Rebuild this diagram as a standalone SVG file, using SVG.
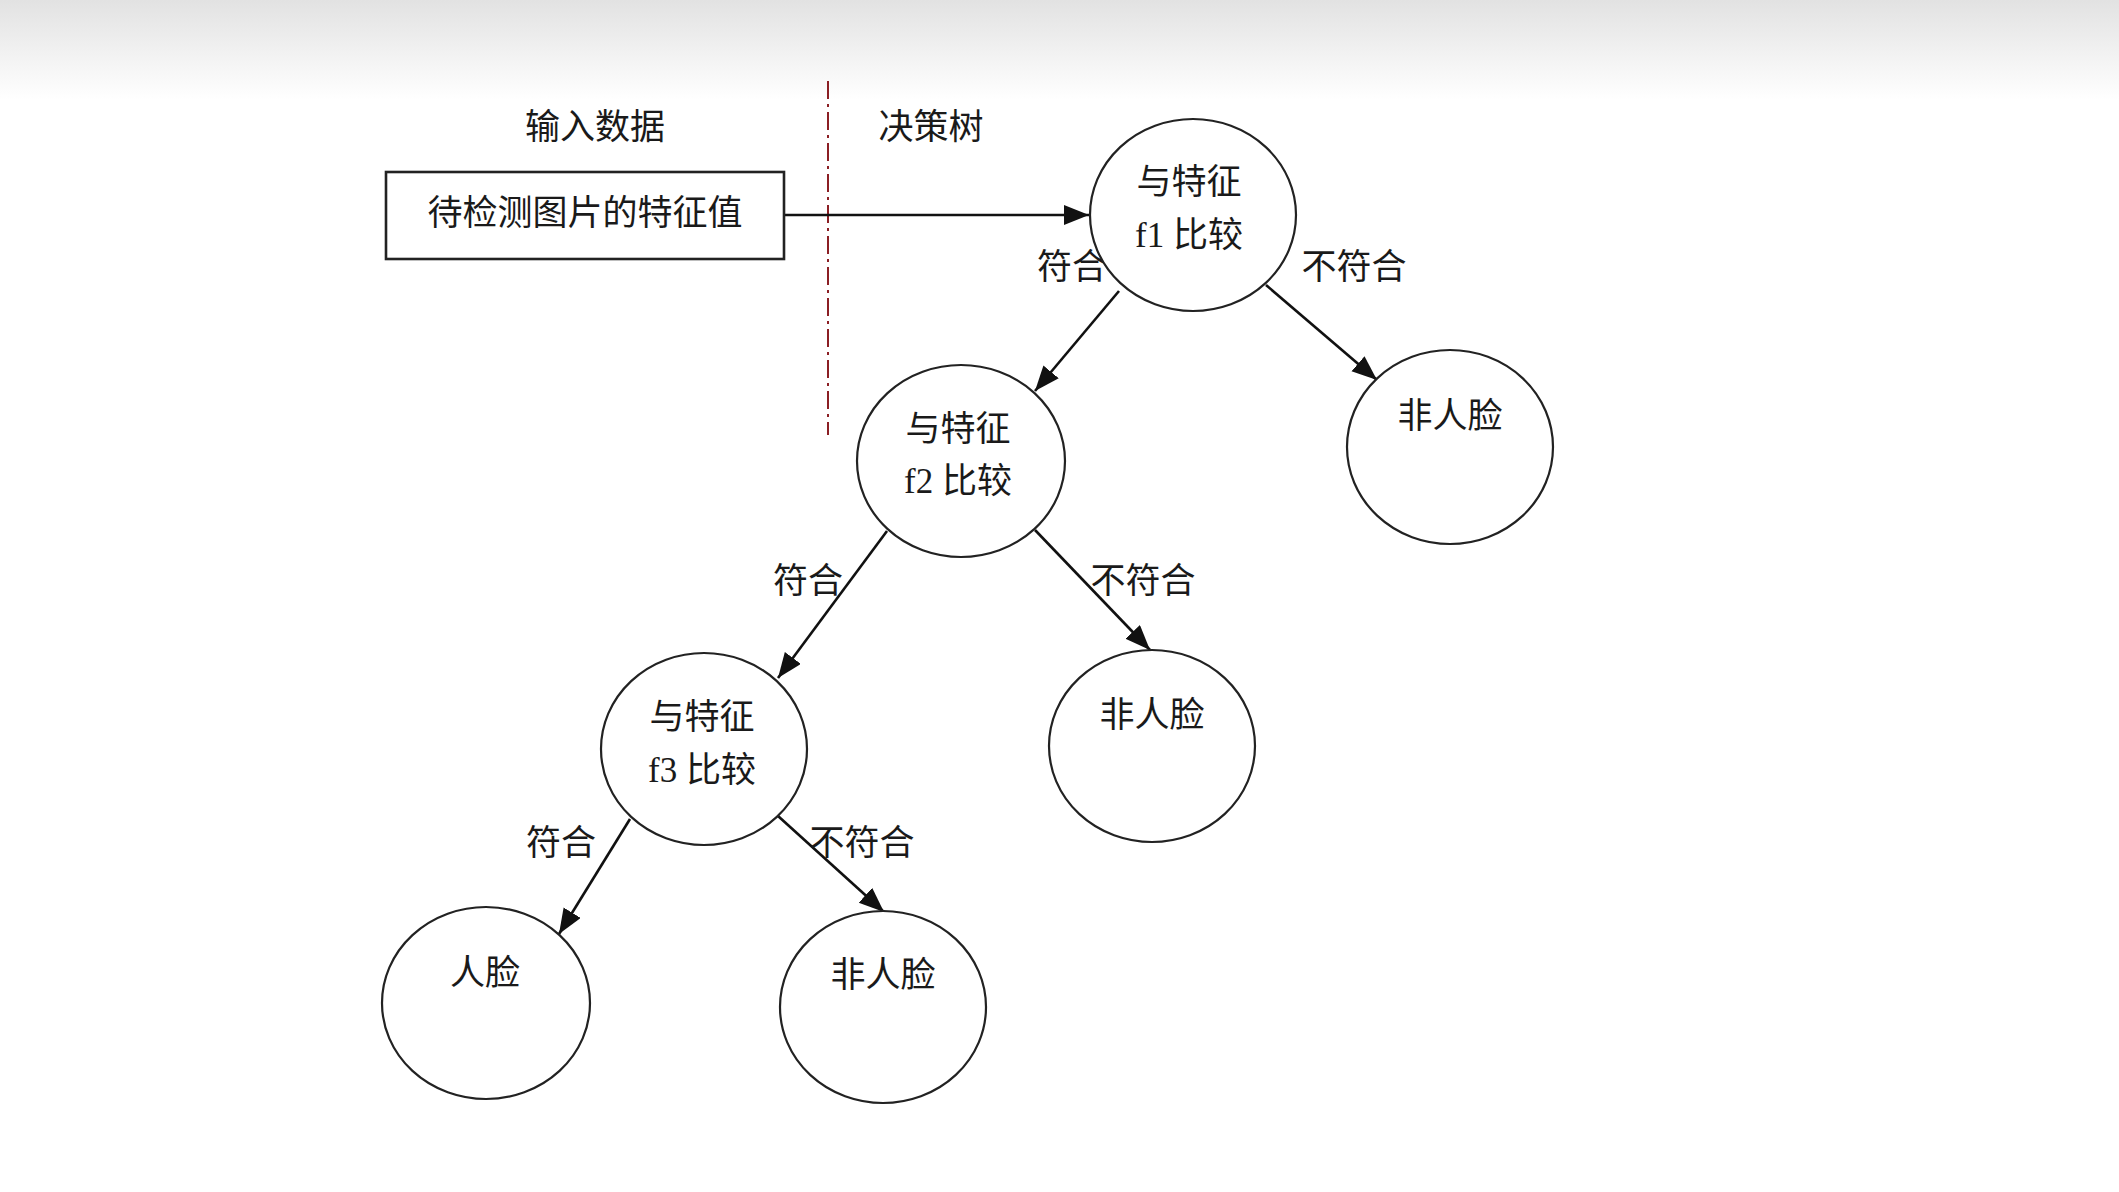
<svg xmlns="http://www.w3.org/2000/svg" width="2119" height="1192" viewBox="0 0 2119 1192">
<defs>
<linearGradient id="bg" x1="0" y1="0" x2="0" y2="1">
<stop offset="0" stop-color="#e2e2e2"/>
<stop offset="1" stop-color="#ffffff"/>
</linearGradient>
<marker id="arr" markerUnits="userSpaceOnUse" markerWidth="28" markerHeight="22" refX="25" refY="10" orient="auto">
<path d="M0,0 L25,10 L0,20 Z" fill="#111"/>
</marker>
<style>
.n{fill:#fff;stroke:#222;stroke-width:2.2}
.t{font-family:"Liberation Serif","Noto Sans CJK SC",serif;font-size:35px;fill:#1a1a1a;text-anchor:middle;dominant-baseline:central}
.c{stroke:#111;stroke-width:2.6;fill:none;marker-end:url(#arr)}
</style>
</defs>
<rect width="2119" height="1192" fill="#fff"/>
<rect width="2119" height="100" fill="url(#bg)"/>
<g id="headers">
<text class="t" x="595" y="127">输入数据</text>
<text class="t" x="931" y="127">决策树</text>
<line x1="828" y1="81" x2="828" y2="435" stroke="#8b1f24" stroke-width="2" stroke-dasharray="18,5,3,5"/>
</g>
<g id="connectors">
<line class="c" x1="784" y1="215" x2="1089" y2="215"/>
<line class="c" x1="1119" y1="291" x2="1035" y2="391"/>
<line class="c" x1="1266" y1="285" x2="1377" y2="380"/>
<line class="c" x1="887" y1="531" x2="778" y2="678"/>
<line class="c" x1="1035" y1="530" x2="1150" y2="650"/>
<line class="c" x1="630" y1="819" x2="559" y2="934"/>
<line class="c" x1="778" y1="816" x2="884" y2="912"/>
<text class="t" x="1072" y="267">符合</text>
<text class="t" x="1354" y="267">不符合</text>
<text class="t" x="808" y="581">符合</text>
<text class="t" x="1143" y="581">不符合</text>
<text class="t" x="561" y="843">符合</text>
<text class="t" x="862" y="843">不符合</text>
</g>
<g id="input">
<rect x="386" y="172" width="398" height="87" fill="#fff" stroke="#222" stroke-width="2.6"/>
<text class="t" x="585" y="213">待检测图片的特征值</text>
</g>
<g id="f1">
<ellipse class="n" cx="1193" cy="215" rx="103" ry="96"/>
<text class="t" x="1189" y="182">与特征</text>
<text class="t" x="1189" y="235">f1 比较</text>
</g>
<g id="nf1">
<ellipse class="n" cx="1450" cy="447" rx="103" ry="97"/>
<text class="t" x="1450" y="416">非人脸</text>
</g>
<g id="f2">
<ellipse class="n" cx="961" cy="461" rx="104" ry="96"/>
<text class="t" x="958" y="429">与特征</text>
<text class="t" x="958" y="481">f2 比较</text>
</g>
<g id="nf2">
<ellipse class="n" cx="1152" cy="746" rx="103" ry="96"/>
<text class="t" x="1152" y="715">非人脸</text>
</g>
<g id="f3">
<ellipse class="n" cx="704" cy="749" rx="103" ry="96"/>
<text class="t" x="702" y="717">与特征</text>
<text class="t" x="702" y="770">f3 比较</text>
</g>
<g id="face">
<ellipse class="n" cx="486" cy="1003" rx="104" ry="96"/>
<text class="t" x="485" y="973">人脸</text>
</g>
<g id="nf3">
<ellipse class="n" cx="883" cy="1007" rx="103" ry="96"/>
<text class="t" x="883" y="975">非人脸</text>
</g>
</svg>
